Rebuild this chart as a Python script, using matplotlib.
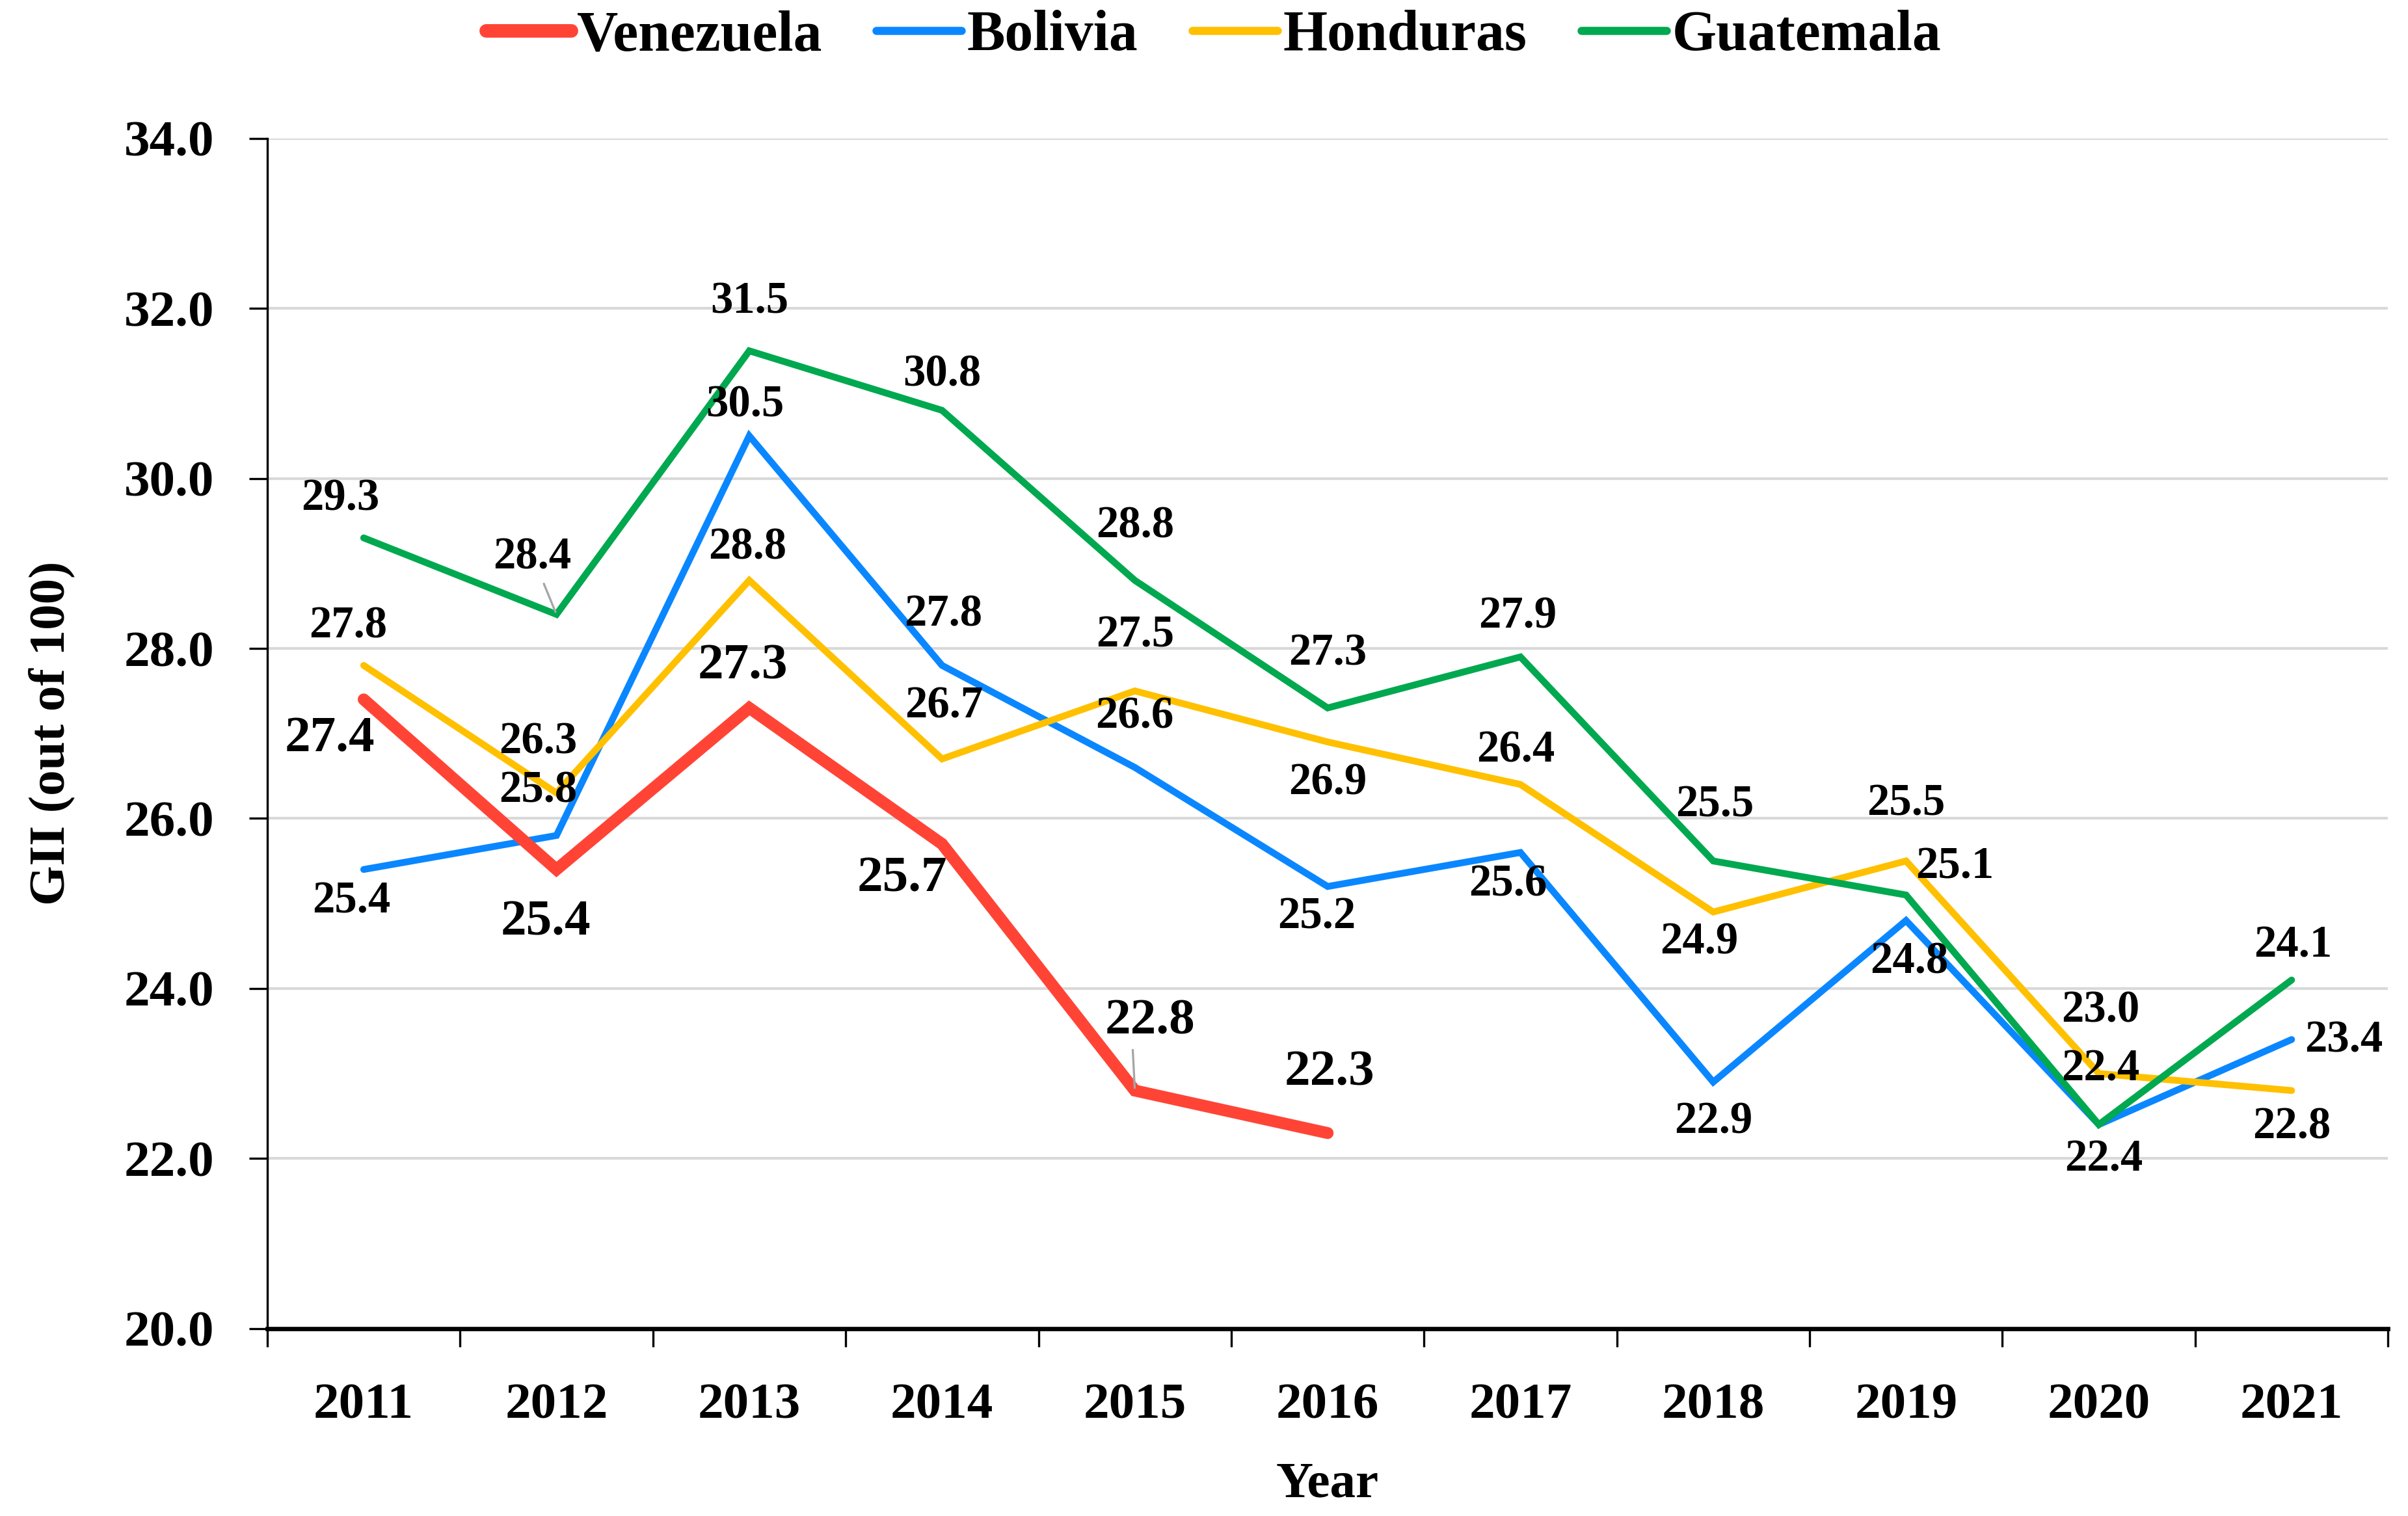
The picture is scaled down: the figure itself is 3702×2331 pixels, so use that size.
import numpy as np
import matplotlib.pyplot as plt

# ============================================================
# DATA
# ============================================================
YEARS = ["2011", "2012", "2013", "2014", "2015", "2016",
         "2017", "2018", "2019", "2020", "2021"]

VENEZUELA = [27.4, 25.4, 27.3, 25.7, 22.8, 22.3]
BOLIVIA = [25.4, 25.8, 30.5, 27.8, 26.6, 25.2, 25.6, 22.9, 24.8, 22.4, 23.4]
HONDURAS = [27.8, 26.3, 28.8, 26.7, 27.5, 26.9, 26.4, 24.9, 25.5, 23.0, 22.8]
GUATEMALA = [29.3, 28.4, 31.5, 30.8, 28.8, 27.3, 27.9, 25.5, 25.1, 22.4, 24.1]

# ============================================================
# LABEL PLACEMENT (offset in points from each point)
# ============================================================
VEN_OFFSETS = [(-12.5, -14.7), (-4, -19.8), (-2.3, 15.3), (-14.7, -13), (5.7, 25.5), (0.6, 22.1)]
BOL_OFFSETS = [(-4.5, -11.9), (-6.8, 16.4), (-1.7, 11.3), (0.5, 18.7), (0, 18.7), (-4, -11.3),
               (-4.5, -11.9), (0, -14.7), (1.1, -15.3), (1.7, -13), (19.3, -0.6)]
HON_OFFSETS = [(-5.7, 14.2), (-6.8, 18.7), (-0.6, 11.9), (0.6, 19.3), (0, 20.4), (0, -15.3),
               (-1.7, 12.5), (-5.1, -11.3), (0, 21), (0.6, 23.2), (0, -13.6)]
GUA_OFFSETS = [(-8.5, 14.2), (-9, 21), (0, 18), (0, 13), (0, 20), (0, 20),
               (-1, 14.7), (0.5, 20.4), (18, 10.2), (0.5, 20.4), (0.5, 12.5)]

# (series, index) pairs that get a small grey leader line
LEADERS = {("Guatemala", 1): (0.6, 0.1), ("Venezuela", 4): (0.3, 0.1)}

# series: (name, values, color, linewidth, legend lw, label fontsize, offsets, zorder)
SERIES = [
    ("Venezuela", VENEZUELA, "#FF4436", 4.4, 5.0, 19, VEN_OFFSETS, 6),
    ("Bolivia",   BOLIVIA,   "#0A87FF", 2.5, 3.0, 16.5, BOL_OFFSETS, 3),
    ("Honduras",  HONDURAS,  "#FFC000", 2.5, 3.0, 16.5, HON_OFFSETS, 4),
    ("Guatemala", GUATEMALA, "#00A84F", 2.5, 3.0, 16.5, GUA_OFFSETS, 5),
]

plt.rcParams['font.family'] = ['Liberation Serif', 'DejaVu Serif']
plt.rcParams['font.weight'] = 'bold'

fig = plt.figure(figsize=(3702 / 300, 2331 / 300), dpi=300)
ax = fig.add_axes([0.111, 0.1236, 0.8807, 0.7852])

for name, vals, color, lw, _, fs, offsets, z in SERIES:
    x = np.arange(len(vals))
    ax.plot(x, vals, color=color, lw=lw, label=name, zorder=z,
            solid_capstyle='round', solid_joinstyle='miter')
    for i, v in enumerate(vals):
        dx, dy = offsets[i]
        kw = {}
        if (name, i) in LEADERS:
            kw['arrowprops'] = dict(arrowstyle='-', color='#A6A6A6', lw=0.8,
                                    relpos=LEADERS[(name, i)], shrinkA=0, shrinkB=1)
        ax.annotate(f"{v:.1f}", (i, v), xytext=(dx, dy), textcoords='offset points',
                    ha='center', va='center', fontsize=fs, fontweight='bold',
                    zorder=10, **kw)

# axes formatting
ax.set_ylim(20, 34)
ax.set_yticks(np.arange(20, 34.1, 2))
ax.set_yticklabels([f"{t:.1f}" for t in np.arange(20, 34.1, 2)])
ax.set_xlim(-0.5, len(YEARS) - 0.5)
ax.set_xticks(np.arange(len(YEARS)))
ax.set_xticklabels(YEARS)
ax.set_xticks(np.arange(-0.5, len(YEARS)), minor=True)

ax.tick_params(axis='x', which='major', length=0, pad=20, labelsize=19)
ax.tick_params(axis='x', which='minor', length=6.7, width=0.8, direction='out')
ax.tick_params(axis='y', which='major', length=6.7, width=0.8, direction='out',
               pad=13, labelsize=19)

ax.grid(axis='y', color='#D9D9D9', lw=1.0, zorder=0)
ax.set_axisbelow(True)
for s in ['top', 'right']:
    ax.spines[s].set_visible(False)
ax.spines['left'].set_linewidth(0.8)
ax.spines['bottom'].set_linewidth(1.6)

ax.set_xlabel("Year", fontsize=19, fontweight='bold', labelpad=12)
ax.set_ylabel("GII (out of 100)", fontsize=19, fontweight='bold', labelpad=18)

leg = fig.legend(loc='center', bbox_to_anchor=(0.504, 0.976), ncol=4, frameon=False,
                 prop={'size': 21, 'weight': 'bold'}, handlelength=1.5,
                 handletextpad=0.1, columnspacing=0.95)
for h, s in zip(leg.get_lines(), SERIES):
    h.set_linewidth(s[4])
    h.set_solid_capstyle('round')

fig.savefig("out.png", dpi=300)
